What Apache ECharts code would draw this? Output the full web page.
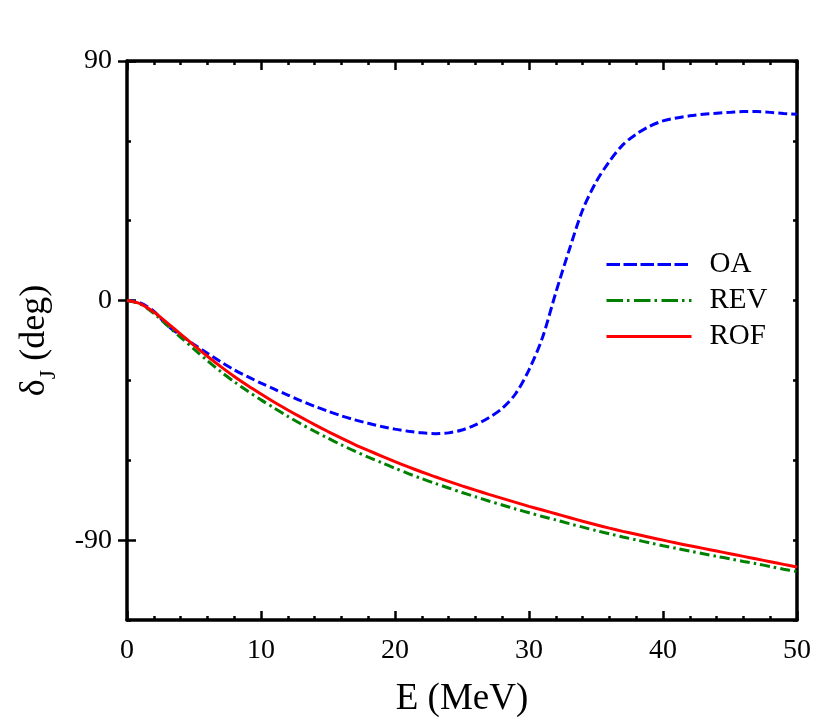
<!DOCTYPE html>
<html>
<head>
<meta charset="utf-8">
<script src="https://cdn.jsdelivr.net/npm/echarts@6/dist/echarts.min.js"></script>
<style>
  html, body { margin: 0; padding: 0; background: #fff; }
  #chart { width: 830px; height: 728px; }
</style>
</head>
<body>
<div id="chart"></div>
<script>
// energy grid (MeV)
var energy = [0, 1, 2, 3, 4, 5, 6, 7, 8, 9, 10, 11, 12, 13, 14, 15, 16, 17, 18, 19, 20,
  21, 22, 23, 24, 25, 26, 27, 28, 29, 30, 31, 32, 33, 34, 35, 36, 37, 38, 39, 40,
  41, 42, 43, 44, 45, 46, 47, 48, 49, 50];

// phase shifts (deg)
var oaPhase = [0, -0.9, -4, -9.3, -13, -16.5, -19.8, -23, -26, -28.6, -31,
  -33.3, -35.5, -37.7, -39.7, -41.6, -43.3, -44.8, -46.1, -47.3, -48.3,
  -49.1, -49.7, -50, -49.7, -48.6, -46.7, -44, -40.5, -35, -26,
  -14, 3, 19, 34, 44.5, 52.3, 58.5, 62.5, 65.5, 67.5,
  68.6, 69.4, 70, 70.4, 70.7, 71, 71, 70.7, 70.3, 70];
var revPhase = [0, -1.3, -4.8, -9.3, -13.8, -18.2, -22.6, -26.7, -30.5, -34, -37.3,
  -40.4, -43.5, -46.4, -49.1, -51.7, -54.2, -56.6, -58.8, -60.9, -63,
  -65, -66.9, -68.7, -70.4, -72.1, -73.7, -75.3, -76.8, -78.3, -79.7,
  -81.1, -82.4, -83.8, -85.1, -86.4, -87.6, -88.8, -89.9, -91, -92.1,
  -93.1, -94.1, -95.1, -96.1, -97, -98, -98.9, -99.9, -100.9, -101.8];
var rofPhase = [0, -1.2, -4.3, -8.4, -12.6, -16.8, -20.9, -24.8, -28.5, -31.9, -35.1,
  -38.2, -41.1, -43.9, -46.6, -49.2, -51.7, -54.1, -56.3, -58.4, -60.5,
  -62.5, -64.4, -66.2, -67.9, -69.6, -71.2, -72.8, -74.3, -75.8, -77.3,
  -78.7, -80.1, -81.5, -82.9, -84.2, -85.5, -86.7, -87.8, -88.9, -90,
  -91.1, -92.1, -93.1, -94.1, -95.1, -96.1, -97.1, -98.1, -99.1, -100.1];

var xTicks = [0, 10, 20, 30, 40, 50];
var yLabelTicks = [-90, 0, 90];

var serif = '"Liberation Serif", "DejaVu Serif", serif';

function pairs(xs, ys) {
  var out = [];
  for (var i = 0; i < xs.length; i++) out.push([xs[i], ys[i]]);
  return out;
}

var chart = echarts.init(document.getElementById('chart'));

// 共用的坐标轴线样式
var axisLine = { show: true, onZero: false, lineStyle: { color: '#000', width: 3.5 } };
var majorTick = { show: true, inside: true, length: 9, lineStyle: { color: '#000', width: 2.5 } };
var minorTick = { show: true, splitNumber: 5, length: 4, lineStyle: { color: '#000', width: 2.5 } };

var option = {
  animation: false,
  backgroundColor: '#fff',
  grid: { left: 127, right: 33, top: 61, bottom: 108, containLabel: false },
  legend: {
    orient: 'vertical',
    left: 600,
    top: 245,
    itemWidth: 85,
    itemHeight: 14,
    itemGap: 7,
    itemStyle: { opacity: 0 },
    data: [
      { name: 'OA', lineStyle: { color: '#0000ff', width: 3, type: [13.5, 3.5] } },
      { name: 'REV', lineStyle: { color: '#008000', width: 3, type: [16.5, 4, 2.5, 4.5] } },
      { name: 'ROF', lineStyle: { color: '#ff0000', width: 3 } }
    ],
    textStyle: { fontFamily: serif, fontSize: 29, color: '#000', lineHeight: 28, padding: [0, 0, 0, 13] }
  },
  xAxis: [
    {
      type: 'value', min: 0, max: 50, interval: 10, position: 'bottom',
      name: 'E (MeV)', nameLocation: 'middle', nameGap: 61,
      nameTextStyle: { fontFamily: serif, fontSize: 37, color: '#000' },
      axisLine: axisLine,
      axisTick: majorTick,
      minorTick: minorTick,
      axisLabel: {
        margin: 17, fontFamily: serif, fontSize: 28, color: '#000',
        customValues: xTicks
      },
      splitLine: { show: false }
    },
    {
      type: 'value', min: 0, max: 50, interval: 10, position: 'top',
      axisLine: axisLine,
      axisTick: majorTick,
      minorTick: minorTick,
      axisLabel: { show: false },
      splitLine: { show: false }
    }
  ],
  yAxis: [
    {
      type: 'value', min: -120, max: 90, interval: 30, position: 'left',
      name: '{a|δ}{b|J}{a| (deg)}', nameLocation: 'middle', nameGap: 70, nameRotate: 90,
      nameTextStyle: {
        rich: {
          a: { fontFamily: serif, fontSize: 36, color: '#000', lineHeight: 44 },
          b: { fontFamily: serif, fontSize: 24, color: '#000', lineHeight: 44, verticalAlign: 'bottom', padding: [0, 0, -4, 0] }
        }
      },
      axisLine: axisLine,
      axisTick: { show: true, inside: true, length: 4, lineStyle: { color: '#000', width: 2.5 } },
      axisLabel: {
        margin: 15, fontFamily: serif, fontSize: 28, color: '#000',
        formatter: function (v) { return yLabelTicks.indexOf(v) >= 0 ? String(v) : ''; }
      },
      splitLine: { show: false }
    },
    {
      // long ticks on the labelled values, left side
      type: 'value', min: -120, max: 90, position: 'left',
      axisLine: { show: false },
      axisTick: { show: true, inside: true, length: 9, customValues: yLabelTicks, lineStyle: { color: '#000', width: 2.5 } },
      axisLabel: { show: false },
      splitLine: { show: false }
    },
    {
      type: 'value', min: -120, max: 90, interval: 30, position: 'right',
      axisLine: axisLine,
      axisTick: { show: true, inside: true, length: 4, lineStyle: { color: '#000', width: 2.5 } },
      axisLabel: { show: false },
      splitLine: { show: false }
    },
    {
      type: 'value', min: -120, max: 90, position: 'right',
      axisLine: { show: false },
      axisTick: { show: true, inside: true, length: 9, customValues: yLabelTicks, lineStyle: { color: '#000', width: 2.5 } },
      axisLabel: { show: false },
      splitLine: { show: false }
    }
  ],
  series: [
    {
      name: 'OA', type: 'line', smooth: 0.3, symbol: 'none',
      lineStyle: { color: '#0000ff', width: 3, type: [9, 4] },
      itemStyle: { color: '#0000ff' },
      data: pairs(energy, oaPhase)
    },
    {
      name: 'REV', type: 'line', smooth: 0.3, symbol: 'none',
      lineStyle: { color: '#008000', width: 3, type: [10, 4, 2.5, 4] },
      itemStyle: { color: '#008000' },
      data: pairs(energy, revPhase)
    },
    {
      name: 'ROF', type: 'line', smooth: 0.3, symbol: 'none',
      lineStyle: { color: '#ff0000', width: 3 },
      itemStyle: { color: '#ff0000' },
      data: pairs(energy, rofPhase)
    }
  ]
};

chart.setOption(option);
</script>
</body>
</html>
